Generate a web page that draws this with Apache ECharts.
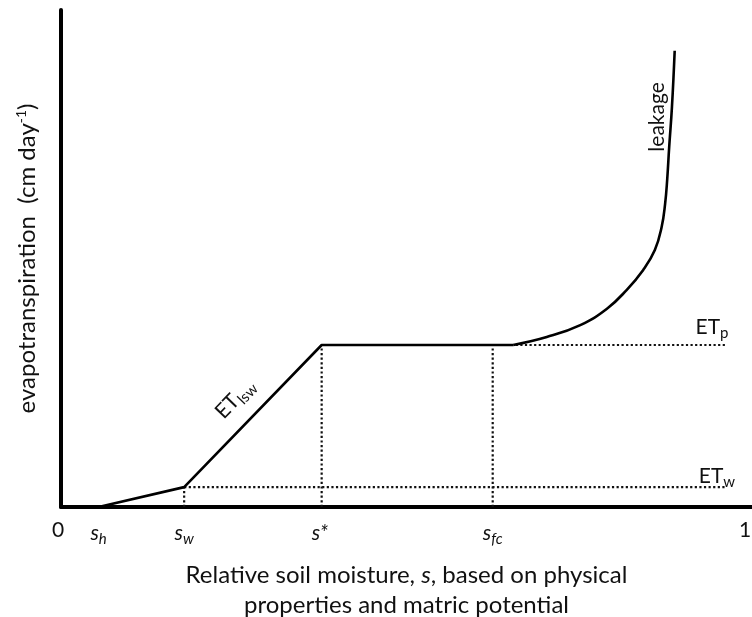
<!DOCTYPE html>
<html>
<head>
<meta charset="utf-8">
<script src="https://cdn.jsdelivr.net/npm/echarts@6/dist/echarts.min.js"></script>
<style>
  html, body { margin: 0; padding: 0; background: #fff; }
  #main { width: 752px; height: 617px; }
</style>
</head>
<body>
<div id="main"></div>
<script>
// 坐标轴上的特征点（相对土壤湿度）
const sPoints = [0, 0.055, 0.18, 0.381, 0.631, 1];
const sTickLabels = ['{z|0}', '{i|s}{sub|h}', '{i|s}{sub|w}', '{i|s*}{sub| }', '{i|s}{sub|fc}', '{n|1}'];

// 蒸散量水平
const etW = 0.04;
const etP = 0.326;
const refEnd = 0.972;

// 分段线性部分：s_h -> s_w -> s* -> 平台
const etS = [0.055, 0.18, 0.381, 0.661];
const etValues = [0, 0.04, 0.326, 0.326];

// 渗漏曲线
const leakageS = [0.661, 0.710, 0.759, 0.798, 0.827, 0.851, 0.868, 0.878, 0.883, 0.886, 0.889, 0.893, 0.897];
const leakageET = [0.326, 0.342, 0.366, 0.399, 0.437, 0.477, 0.517, 0.564, 0.610, 0.658, 0.725, 0.805, 0.918];

const FONT = 'Lato';
const sH = sPoints[1], sW = sPoints[2], sStar = sPoints[3], sFc = sPoints[4];

var myChart = echarts.init(document.getElementById('main'));

const richText = {
  a: { fontFamily: FONT, fontSize: 21, color: '#111' },
  t: { fontFamily: FONT, fontSize: 24, color: '#111' },
  s: { fontFamily: FONT, fontSize: 15, color: '#111', padding: [12, 0, 0, 0] },
  sup: { fontFamily: FONT, fontSize: 14, color: '#111', padding: [0, 0, 12, 0] }
};

// 刻度标签样式
const tickRich = {
  n: { fontFamily: FONT, fontSize: 21, color: '#111', padding: [10, 0, 0, 0] },
  z: { fontFamily: FONT, fontSize: 21, color: '#111', padding: [10, 6, 0, 0] },
  i: { fontFamily: FONT, fontSize: 21, fontStyle: 'italic', color: '#111', padding: [10, 0, 0, 0] },
  sub: { fontFamily: FONT, fontSize: 15, fontStyle: 'italic', color: '#111', padding: [22, 0, 0, 0] }
};

const dotted = { color: '#111', width: 2.2, type: [2.2, 2.4] };

function refLine(name, data) {
  return {
    name: name,
    type: 'line',
    data: data,
    showSymbol: false,
    silent: true,
    lineStyle: dotted,
    z: 1
  };
}

function note(coord, text, offset, rotate) {
  return {
    coord: coord,
    symbol: 'circle',
    symbolSize: 1,
    itemStyle: { color: 'rgba(0,0,0,0)' },
    label: {
      show: true,
      position: 'inside',
      formatter: text,
      offset: offset,
      rotate: rotate || 0,
      rich: richText
    }
  };
}

var option = {
  animation: false,
  backgroundColor: '#fff',
  grid: { left: 61, right: 0, top: 10, bottom: 110, outerBoundsMode: 'none', containLabel: false },
  xAxis: {
    type: 'value',
    min: 0,
    max: 1.01,
    name: '{a|Relative soil moisture, }{i|s}{a|, based on physical}\n{a|properties and matric potential}',
    nameLocation: 'middle',
    nameGap: 53,
    nameTextStyle: { lineHeight: 30, rich: { a: { fontFamily: FONT, fontSize: 24, color: '#111', lineHeight: 30 }, i: { fontFamily: FONT, fontSize: 24, fontStyle: 'italic', color: '#111', lineHeight: 30 } } },
    axisLine: { show: true, onZero: false, lineStyle: { color: '#000', width: 4 } },
    axisTick: { show: false },
    splitLine: { show: false },
    axisLabel: {
      customValues: sPoints,
      margin: 3,
      formatter: function (value) {
        let k = 0;
        for (let i = 0; i < sPoints.length; i++) {
          if (Math.abs(sPoints[i] - value) < 1e-6) k = i;
        }
        return sTickLabels[k];
      },
      fontFamily: FONT,
      fontSize: 21,
      color: '#111',
      rich: tickRich
    }
  },
  yAxis: {
    type: 'value',
    min: 0,
    max: 1,
    name: '{t|evapotranspiration  (cm day}{sup|-1}{t|)}',
    nameLocation: 'middle',
    nameGap: 21,
    nameTextStyle: { rich: richText },
    axisLine: { show: true, onZero: false, lineStyle: { color: '#000', width: 4 } },
    axisTick: { show: false },
    axisLabel: { show: false },
    splitLine: { show: false }
  },
  series: [
    refLine('ETw', [[sW, etW], [refEnd, etW]]),
    refLine('ETp', [[sFc, etP], [refEnd, etP]]),
    refLine('sw', [[sW, 0], [sW, etW]]),
    refLine('sStar', [[sStar, 0], [sStar, etP]]),
    refLine('sfc', [[sFc, 0], [sFc, etP]]),
    {
      name: 'ET',
      type: 'line',
      data: etS.map(function (s, i) { return [s, etValues[i]]; }),
      showSymbol: false,
      lineStyle: { color: '#000', width: 2.6 },
      z: 3,
      markPoint: {
        silent: true,
        data: [
          note([(sW + sStar) / 2, (etW + etP) / 2], '{a|ET}{s|lsw}', [0, -25], 46),
          note([refEnd, etP], '{a|ET}{s|p}', [-14, -18]),
          note([refEnd, etW], '{a|ET}{s|w}', [-9, -11])
        ]
      }
    },
    {
      name: 'leakage',
      type: 'line',
      data: leakageS.map(function (s, i) { return [s, leakageET[i]]; }),
      showSymbol: false,
      smooth: 0.45,
      lineStyle: { color: '#000', width: 2.6 },
      z: 3,
      markPoint: {
        silent: true,
        data: [
          note([leakageS[11], leakageET[11]], '{a|leakage}', [-10, -15], 90)
        ]
      }
    }
  ]
};

myChart.setOption(option);
</script>
</body>
</html>
